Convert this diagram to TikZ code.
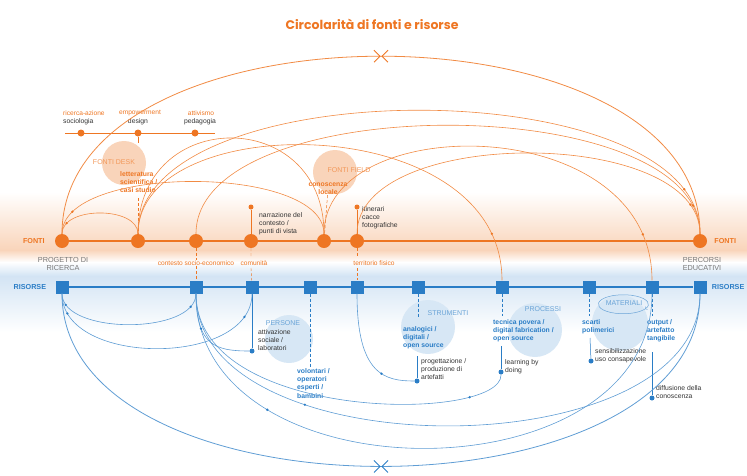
\documentclass[tikz,border=0pt]{standalone}
\usepackage{fontspec}
\setmainfont{Liberation Sans}
\newfontfamily\titolofont{Poppins}
\usetikzlibrary{positioning}
\definecolor{arancio}{HTML}{EE7623}
\definecolor{blu}{HTML}{2A7DC6}
\definecolor{pesca}{HTML}{F8CDAE}
\definecolor{celeste}{HTML}{D3E4F4}
\definecolor{nero}{HTML}{333333}
\definecolor{grigio}{HTML}{777777}

\begin{document}
\begin{tikzpicture}[x=1pt, y=-1pt,
  fonte/.style={circle, fill=arancio, inner sep=0pt, minimum size=14pt},
  risorsa/.style={rectangle, fill=blu, inner sep=0pt, minimum size=13pt},
  ambito/.style={circle, fill=arancio, inner sep=0pt, minimum size=7pt},
  puntof/.style={circle, fill=arancio, inner sep=0pt, minimum size=5pt},
  puntor/.style={circle, fill=blu, inner sep=0pt, minimum size=5pt},
  arcof/.style={draw=arancio!85, line width=0.6pt},
  arcor/.style={draw=blu!75, line width=0.6pt},
  segnof/.style={circle, fill=arancio, inner sep=0pt, minimum size=2.6pt},
  segnor/.style={circle, fill=blu, inner sep=0pt, minimum size=2.6pt},
  testo/.style={font=\fontsize{6.8}{8.2}\selectfont, text=nero, align=left, inner sep=0pt},
  testof/.style={testo, font=\bfseries\fontsize{6.8}{8.2}\selectfont, text=arancio},
  testor/.style={testo, font=\bfseries\fontsize{6.8}{8.4}\selectfont, text=blu},
  cerchiof/.style={font=\fontsize{7}{8}\selectfont, text=arancio!75, inner sep=0pt},
  cerchior/.style={font=\fontsize{7}{8}\selectfont, text=blu!70, inner sep=0pt},
  maiuscolo/.style={font=\fontsize{7.3}{8.4}\selectfont, text=grigio, align=center, inner sep=0pt},
  luogo/.style={font=\fontsize{6.6}{7.5}\selectfont, text=arancio, inner sep=0pt},
  riga/.style={font=\bfseries\fontsize{7.2}{8}\selectfont, inner sep=0pt}]
\useasboundingbox (0,0) rectangle (747,475);

% fasce di sfondo
\shade[top color=white, bottom color=pesca!85] (0,192) rectangle (747,250);
\shade[top color=pesca!85, bottom color=white] (0,250) rectangle (747,262);
\shade[top color=white, bottom color=celeste] (0,262) rectangle (747,276);
\shade[top color=celeste, bottom color=white] (0,276) rectangle (747,332);

% cerchi
\fill[pesca!85] (124,163) circle (22);
\fill[pesca!85] (335,172) circle (22);
\fill[celeste!90] (289,339) circle (24);
\fill[celeste!90] (428,327) circle (27);
\fill[celeste!90] (535,330) circle (27);
\fill[celeste!90] (620,323) circle (28);

\node[font=\titolofont\bfseries\fontsize{12.5}{14}\selectfont, text=arancio] (titolo) at (372,24) {Circolarità di fonti e risorse};

% fonti
\node[fonte] (progetto) at (62,241) {};
\node[fonte] (desk) at (138,241) {};
\node[fonte] (contesto) at (196,241) {};
\node[fonte] (comunita) at (251,241) {};
\node[fonte] (field) at (324,241) {};
\node[fonte] (territorio) at (357,241) {};
\node[fonte] (percorsi) at (700,241) {};
\draw[arancio, line width=2.2pt] (progetto) -- (percorsi);
\node[riga, text=arancio, left=10pt of progetto] {FONTI};
\node[riga, text=arancio, right=7pt of percorsi] {FONTI};

% risorse
\node[risorsa] (rprogetto) at (62,287) {};
\node[risorsa] (rcontesto) at (196,287) {};
\node[risorsa] (rcomunita) at (252,287) {};
\node[risorsa] (rpersone) at (310,287) {};
\node[risorsa] (rterritorio) at (357,287) {};
\node[risorsa] (rstrumenti) at (418,287) {};
\node[risorsa] (rprocessi) at (502,287) {};
\node[risorsa] (rscarti) at (589,287) {};
\node[risorsa] (rmateriali) at (652,287) {};
\node[risorsa] (rpercorsi) at (700,287) {};
\draw[blu, line width=1.5pt] (rprogetto) -- (rpercorsi);
\node[riga, text=blu, left=9pt of rprogetto] {RISORSE};
\node[riga, text=blu, right=5pt of rpercorsi] {RISORSE};

\node[maiuscolo] (progettolab) at (63,264) {PROGETTO DI\\RICERCA};
\node[maiuscolo] (percorsilab) at (702,264) {PERCORSI\\EDUCATIVI};
\node[luogo] (lblcontesto) at (196,263) {contesto socio-economico};
\node[luogo] (lblcomunita) at (254,263) {comunità};
\node[luogo] (lblterritorio) at (374,263) {territorio fisico};
\draw[arancio, densely dashed, line width=0.4pt] (contesto) -- (lblcontesto) (lblcontesto) -- (rcontesto);
\draw[arancio, densely dashed, line width=0.4pt] (comunita) -- (251,258) (251,268) -- (rcomunita);
\draw[arancio, densely dashed, line width=0.4pt] (territorio) -- (357,258) (357,268) -- (rterritorio);

% ambiti
\draw[arancio, line width=0.5pt] (65,133) -- (215,133);
\node[ambito] (sociologia) at (81,133) {};
\node[ambito] (design) at (138,133) {};
\node[ambito] (pedagogia) at (195,133) {};
\node[luogo, anchor=west] at (63,113) {ricerca-azione};
\node[testo, anchor=west] at (63,122) {sociologia};
\node[luogo] at (140,113) {empowerment};
\node[testo] at (138,122) {design};
\node[luogo] at (201,113) {attivismo};
\node[testo] at (200,122) {pedagogia};
\draw[arancio, line width=0.4pt] (design) -- (138,143);
\draw[arancio, densely dashed, line width=0.5pt] (138,198) -- (desk);

% fonti desk e field
\node[cerchiof] (desklab) at (114,162) {FONTI DESK};
\node[testof, anchor=north west] (letteratura) at (120,171) {letteratura\\scientifica /\\casi studio};
\node[cerchiof] (fieldlab) at (349,170) {FONTI FIELD};
\node[testof, align=center] (locale) at (328,189) {conoscenza\\locale};
\draw[arancio, densely dashed, line width=0.5pt] (locale) -- (field);
\node[puntof] (narrdot) at (251,207) {};
\draw[arancio, line width=0.6pt] (narrdot) -- (comunita);
\node[testo, anchor=north west] at (259,212) {narrazione del\\contesto /\\punti di vista};
\node[puntof] (itindot) at (357,207) {};
\draw[arancio, line width=0.6pt] (itindot) -- (territorio);
\node[testo, anchor=north west] at (362,206) {itinerari\\cacce\\fotografiche};

% archi delle fonti
\draw[arcof, line width=0.8pt] (progetto) .. controls (62,-3) and (700,-3) .. (percorsi) coordinate[pos=0.5] (apiceF);
\draw[arancio, line width=0.9pt] ([shift={(-7,-6)}]apiceF) -- ([shift={(-1,0)}]apiceF) -- ([shift={(-7,6)}]apiceF)
  ([shift={(7,-6)}]apiceF) -- ([shift={(1,0)}]apiceF) -- ([shift={(7,6)}]apiceF);
\draw[arcof] (desk) .. controls (138,69) and (700,69) .. (percorsi) node[segnof, pos=0.9] {};
\draw[arcof] (contesto) .. controls (196,89) and (700,89) .. (percorsi) node[segnof, pos=0.93] {};
\draw[arcof] (territorio) .. controls (357,126) and (700,126) .. (percorsi) node[segnof, pos=0.9] {};
\draw[arcof] (desk) .. controls (138,108) and (502,108) .. (rprocessi) node[segnof, pos=0.9] {};
\draw[arcof] (field) .. controls (324,110) and (652,110) .. (rmateriali) node[segnof, pos=0.9] {};
\draw[arcof] (progetto) .. controls (62,206) and (138,206) .. (desk) node[segnof, pos=0.15] {};
\draw[arcof] (progetto) .. controls (62,164) and (324,164) .. (field) node[segnof, pos=0.12] {};
\draw[arcof] (desk) .. controls (138,106) and (324,106) .. (field);

% persone
\node[cerchior] (personelab) at (283,323) {PERSONE};
\node[puntor] (labdot) at (252,351) {};
\draw[blu, line width=0.5pt] (rcomunita) -- (labdot);
\node[testo, anchor=north west] at (258,329) {attivazione\\sociale /\\laboratori};
\draw[blu, densely dashed, line width=0.6pt] (rpersone) -- (310,367);
\node[testor, anchor=north west] at (297,368) {volontari /\\operatori\\esperti /\\bambini};

% strumenti
\node[cerchior] (strumentilab) at (448,313) {STRUMENTI};
\draw[blu, densely dashed, line width=0.6pt] (rstrumenti) -- (418,318);
\node[testor, anchor=north west] at (403,326) {analogici /\\digitali /\\open source};
\node[puntor] (progdot) at (417,381) {};
\draw[blu, line width=0.5pt] (417,356) -- (progdot);
\node[testo, anchor=north west] at (421,358) {progettazione /\\produzione di\\artefatti};

% processi
\node[cerchior] (processilab) at (543,309) {PROCESSI};
\draw[blu, densely dashed, line width=0.6pt] (rprocessi) -- (502,316);
\node[testor, anchor=north west] at (493,319) {tecnica povera /\\digital fabrication /\\open source};
\node[puntor] (learndot) at (501,372) {};
\draw[blu, line width=0.5pt] (501,346) -- (learndot);
\node[testo, anchor=north west] at (505,359) {learning by\\doing};

% materiali
\draw[blu!70, line width=0.5pt, ->] (625,304) ++(20,5) arc[start angle=30, end angle=390, x radius=25, y radius=9.5];
\node[cerchior] (materialilab) at (624,303) {MATERIALI};
\draw[blu, densely dashed, line width=0.6pt] (rscarti) -- (589,316);
\draw[blu, densely dashed, line width=0.6pt] (rmateriali) -- (652,316);
\node[testor, anchor=north west] at (582,319) {scarti\\polimerici};
\node[testor, anchor=north west] at (647,319) {output /\\artefatto\\tangibile};
\node[puntor] (sensdot) at (591,361) {};
\draw[blu, line width=0.5pt] (590,338) -- (sensdot);
\node[testo, anchor=north west] at (595,348) {sensibilizzazione\\uso consapevole};
\node[puntor] (diffdot) at (652,398) {};
\draw[blu, line width=0.5pt] (652,352) -- (diffdot);
\node[testo, anchor=north west] at (656,385) {diffusione della\\conoscenza};

% archi delle risorse
\draw[arcor] (rprogetto) .. controls (62,335) and (196,335) .. (rcontesto) node[segnor, pos=0.1] {} node[segnor, pos=0.88] {};
\draw[arcor] (rprogetto) .. controls (62,367) and (252,367) .. (rcomunita) node[segnor, pos=0.1] {} node[segnor, pos=0.88] {};
\draw[arcor, line width=0.8pt] (rprogetto) .. controls (62,524) and (700,524) .. (rpercorsi) coordinate[pos=0.5] (apiceR);
\draw[blu, line width=0.9pt] ([shift={(-7,-6)}]apiceR) -- ([shift={(-1,0)}]apiceR) -- ([shift={(-7,6)}]apiceR)
  ([shift={(7,-6)}]apiceR) -- ([shift={(1,0)}]apiceR) -- ([shift={(7,6)}]apiceR);
\draw[arcor] (rcontesto) .. controls (196,470) and (700,470) .. (rpercorsi) node[segnor, pos=0.3] {};
\draw[arcor] (rcontesto) .. controls (196,500) and (652,500) .. (rmateriali) node[segnor, pos=0.25] {};
\draw[arcor] (rcontesto) .. controls (196,345) and (215,351) .. (labdot) node[segnor, pos=0.3] {};
\draw[arcor] (rcontesto) .. controls (196,423) and (502,423) .. (learndot) node[segnor, pos=0.8] {};
\draw[arcor] (rterritorio) .. controls (357,375) and (385,381) .. (progdot) node[segnor, pos=0.6] {};
\end{tikzpicture}
\end{document}
